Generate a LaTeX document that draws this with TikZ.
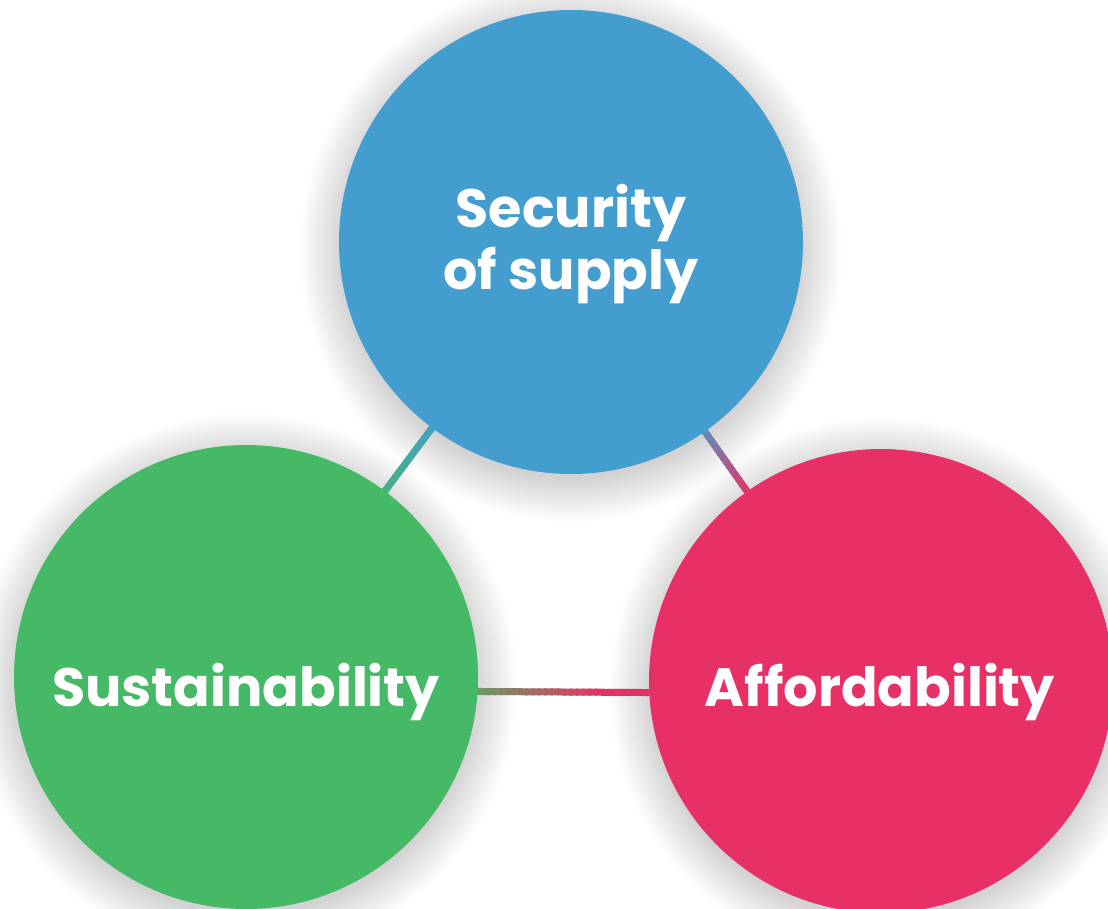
\documentclass[tikz,border=0pt]{standalone}
\usepackage{fontspec}
\setmainfont{Poppins}
\usetikzlibrary{calc}
\pgfdeclarelayer{shadowlayer}
\pgfdeclarelayer{linelayer}
\pgfsetlayers{shadowlayer,linelayer,main}
\definecolor{cblue}{HTML}{439ECF}
\definecolor{cgreen}{HTML}{46B966}
\definecolor{cpink}{HTML}{E73166}
\tikzset{
  bubble/.style={circle, minimum size=464pt, inner sep=0pt, draw=none},
  lbl/.style={text=white, font=\bfseries\fontsize{54}{62}\selectfont, align=center, inner sep=0pt},
  conn/.style={line width=7pt, line cap=butt},
}
\newcommand\gradline[6]{%
  \foreach \i in {0,...,99}{%
    \pgfmathsetmacro\ta{\i/100}%
    \pgfmathsetmacro\tb{(\i+1.3)/100}%
    \pgfmathsetmacro\p{max(0,min(100,(#6-\ta-0.005)/(#6-#5)*100))}%
    \draw[conn, color=#3!\p!#4] ($#1!\ta!#2$) -- ($#1!\tb!#2$);
  }}
\begin{document}
\begin{tikzpicture}[x=1pt,y=-1pt]
\useasboundingbox (0,0) rectangle (1108,908);
% circles
\node[bubble, fill=cblue]  (sec) at (571,242) {};
\node[bubble, fill=cgreen] (sus) at (246,677) {};
\node[bubble, fill=cpink]  (aff) at (881,681) {};
% labels
\node[lbl, anchor=base] (sec-t) at (571,289) {Security\\of supply};
\node[lbl, anchor=base] (sus-t) at (246,706) {Sustainability};
\node[lbl, anchor=base] (aff-t) at (880,706) {Affordability};
% shadows
\begin{pgfonlayer}{shadowlayer}
  \fill[white] (0,0) rectangle (1108,908);
  \foreach \n in {sec,sus,aff}{
    \foreach \k in {0,...,44}{
      \fill[black, opacity=0.0032] ([yshift=-8pt]\n.center) circle ({228pt+\k pt});
    }
  }
\end{pgfonlayer}
% connectors
\begin{pgfonlayer}{linelayer}
  \gradline{(sec)}{(sus)}{cblue}{cgreen}{0.38}{0.66}
  \gradline{(sec)}{(aff)}{cblue}{cpink}{0.40}{0.58}
  \gradline{([yshift=-13pt]sus.center)}{([yshift=-13pt]aff.center)}{cgreen}{cpink}{0.31}{0.56}
\end{pgfonlayer}
\end{tikzpicture}
\end{document}
